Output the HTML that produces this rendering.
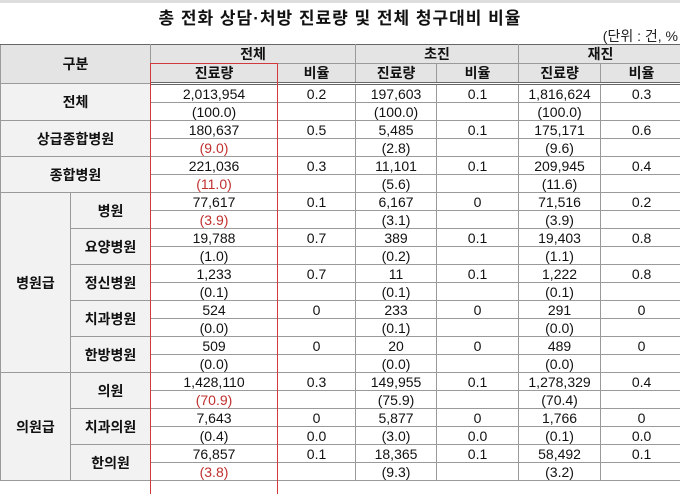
<!DOCTYPE html>
<html><head><meta charset="utf-8"><style>
body{margin:0;width:680px;height:483px;overflow:hidden;background:#fff;font-family:"Liberation Sans","Noto Sans CJK KR",sans-serif;position:relative}
.title{position:absolute;left:0;width:680px;top:4px;text-align:center;font-size:17px;font-weight:bold;letter-spacing:1px;color:#111}
.unit{position:absolute;right:2px;top:26px;font-size:14px;color:#222}
table{position:absolute;left:0;top:44px;border-collapse:collapse;table-layout:fixed;width:682px}
td{border:1px solid #9a9a9a;font-size:14px;text-align:center;padding:0;height:17px;line-height:16px;color:#111;white-space:nowrap;overflow:hidden}
.h{background:#e4e4e4;font-weight:bold;font-size:14px}
.l{background:#f2f2f2;font-weight:bold}
.hd td{height:18px}
.r{color:#c0302f}
.top td{border-top:1px solid #666}
.dbl td{border-bottom:3px double #666}
.rb{position:absolute;left:150px;top:63px;width:126px;height:430px;border:1.5px solid #d03a3a;border-bottom:none}
.line{position:absolute;left:0;width:680px;top:0;height:3px;background:#ddd}
</style></head><body>
<div class="line"></div>
<div class="title">총 전화 상담·처방 진료량 및 전체 청구대비 비율</div>
<div class="unit">(단위 : 건, %</div>
<table>
<colgroup><col style="width:70px"><col style="width:80px"><col style="width:127px"><col style="width:78px"><col style="width:81px"><col style="width:82px"><col style="width:82px"><col style="width:82px"></colgroup>
<tr class="hd top"><td class="h" colspan="2" rowspan="2">구분</td><td class="h" colspan="2">전체</td><td class="h" colspan="2">초진</td><td class="h" colspan="2">재진</td></tr>
<tr class="hd dbl"><td class="h">진료량</td><td class="h">비율</td><td class="h">진료량</td><td class="h">비율</td><td class="h">진료량</td><td class="h">비율</td></tr>

<tr><td class="l" colspan="2" rowspan="2">전체</td><td>2,013,954</td><td>0.2</td><td>197,603</td><td>0.1</td><td>1,816,624</td><td>0.3</td></tr>
<tr><td>(100.0)</td><td></td><td>(100.0)</td><td></td><td>(100.0)</td><td></td></tr>
<tr><td class="l" colspan="2" rowspan="2">상급종합병원</td><td>180,637</td><td>0.5</td><td>5,485</td><td>0.1</td><td>175,171</td><td>0.6</td></tr>
<tr><td class="r">(9.0)</td><td></td><td>(2.8)</td><td></td><td>(9.6)</td><td></td></tr>
<tr><td class="l" colspan="2" rowspan="2">종합병원</td><td>221,036</td><td>0.3</td><td>11,101</td><td>0.1</td><td>209,945</td><td>0.4</td></tr>
<tr><td class="r">(11.0)</td><td></td><td>(5.6)</td><td></td><td>(11.6)</td><td></td></tr>

<tr><td class="l" rowspan="10">병원급</td><td class="l" rowspan="2">병원</td><td>77,617</td><td>0.1</td><td>6,167</td><td>0</td><td>71,516</td><td>0.2</td></tr>
<tr><td class="r">(3.9)</td><td></td><td>(3.1)</td><td></td><td>(3.9)</td><td></td></tr>
<tr><td class="l" rowspan="2">요양병원</td><td>19,788</td><td>0.7</td><td>389</td><td>0.1</td><td>19,403</td><td>0.8</td></tr>
<tr><td>(1.0)</td><td></td><td>(0.2)</td><td></td><td>(1.1)</td><td></td></tr>
<tr><td class="l" rowspan="2">정신병원</td><td>1,233</td><td>0.7</td><td>11</td><td>0.1</td><td>1,222</td><td>0.8</td></tr>
<tr><td>(0.1)</td><td></td><td>(0.1)</td><td></td><td>(0.1)</td><td></td></tr>
<tr><td class="l" rowspan="2">치과병원</td><td>524</td><td>0</td><td>233</td><td>0</td><td>291</td><td>0</td></tr>
<tr><td>(0.0)</td><td></td><td>(0.1)</td><td></td><td>(0.0)</td><td></td></tr>
<tr><td class="l" rowspan="2">한방병원</td><td>509</td><td>0</td><td>20</td><td>0</td><td>489</td><td>0</td></tr>
<tr><td>(0.0)</td><td></td><td>(0.0)</td><td></td><td>(0.0)</td><td></td></tr>

<tr class="top"><td class="l" rowspan="6">의원급</td><td class="l" rowspan="2">의원</td><td>1,428,110</td><td>0.3</td><td>149,955</td><td>0.1</td><td>1,278,329</td><td>0.4</td></tr>
<tr><td class="r">(70.9)</td><td></td><td>(75.9)</td><td></td><td>(70.4)</td><td></td></tr>
<tr><td class="l" rowspan="2">치과의원</td><td>7,643</td><td>0</td><td>5,877</td><td>0</td><td>1,766</td><td>0</td></tr>
<tr><td>(0.4)</td><td>0.0</td><td>(3.0)</td><td>0.0</td><td>(0.1)</td><td>0.0</td></tr>
<tr><td class="l" rowspan="2">한의원</td><td>76,857</td><td>0.1</td><td>18,365</td><td>0.1</td><td>58,492</td><td>0.1</td></tr>
<tr><td class="r">(3.8)</td><td></td><td>(9.3)</td><td></td><td>(3.2)</td><td></td></tr>
</table>
<div class="rb"></div>
</body></html>
